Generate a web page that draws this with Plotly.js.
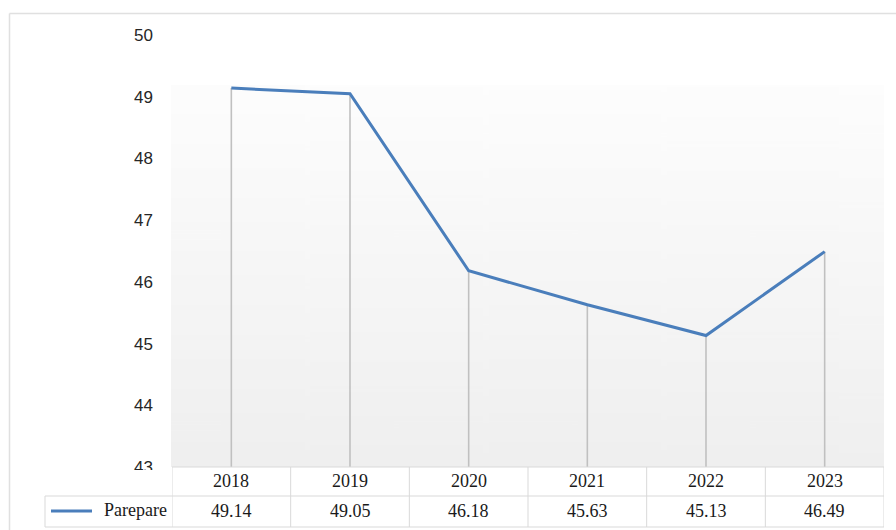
<!DOCTYPE html>
<html>
<head>
<meta charset="utf-8">
<script src="https://cdn.plot.ly/plotly-3.0.1.min.js"></script>
<style>
  html, body { margin: 0; padding: 0; background: #ffffff; }
  #chart { width: 896px; height: 530px; }
</style>
</head>
<body>
<div id="chart"></div>
<script>
// ---- data ----
const years = ['2018', '2019', '2020', '2021', '2022', '2023'];
const values = [49.14, 49.05, 46.18, 45.63, 45.13, 46.49];
const valueLabels = ['49.14', '49.05', '46.18', '45.63', '45.13', '46.49'];
const seriesName = 'Parepare';
const yTicks = [43, 44, 45, 46, 47, 48, 49, 50];
const yMin = 43, yMax = 50;

// ---- geometry helpers (pixel -> paper) ----
const W = 896, H = 530;
const mL = 172, mR = 12, mT = 35, mB = 63;
const plotW = W - mL - mR, plotH = H - mT - mB;
const px = p => (p - mL) / plotW;
const py = p => (H - mB - p) / plotH;

// gradient background image for the plot area
const cv = document.createElement('canvas');
cv.width = 8; cv.height = 256;
const ctx = cv.getContext('2d');
const g = ctx.createLinearGradient(0, 0, 0, 256);
g.addColorStop(0, '#fdfdfd');
g.addColorStop(1, '#efefef');
ctx.fillStyle = g; ctx.fillRect(0, 0, 8, 256);
const gradURL = cv.toDataURL('image/png');

// drop lines built from the data
const dropX = [], dropY = [];
years.forEach((yr, i) => { dropX.push(yr, yr, null); dropY.push(values[i], yMin, null); });

const traces = [
  {
    x: dropX, y: dropY, mode: 'lines', type: 'scatter',
    line: { color: 'rgb(192,192,192)', width: 1.6 },
    hoverinfo: 'skip', showlegend: false
  },
  {
    x: years, y: values, mode: 'lines', type: 'scatter', name: seriesName,
    line: { color: '#4a7ebb', width: 3 },
    hoverinfo: 'skip', showlegend: false
  }
];

const gridColor = '#d9d9d9';
const shapes = [];
// white mask that clips the lower part of the "43" tick label
shapes.push({ type: 'rect', xref: 'paper', yref: 'paper', x0: px(95), x1: px(171), y0: py(470), y1: py(495),
  fillcolor: '#ffffff', line: { width: 0 }, layer: 'above' });
// outer chart frame (left + top)
shapes.push({ type: 'line', xref: 'paper', yref: 'paper', x0: px(9.5), x1: px(9.5), y0: py(13.5), y1: py(535), line: { color: '#e0e0e0', width: 1.5 } });
shapes.push({ type: 'line', xref: 'paper', yref: 'paper', x0: px(9.5), x1: px(900), y0: py(13.5), y1: py(13.5), line: { color: '#e0e0e0', width: 1.5 } });
// data table lines
const rowTop = py(467), rowMid = py(496), rowBot = py(527);
shapes.push({ type: 'line', xref: 'x', yref: 'paper', x0: -0.5, x1: years.length - 0.5, y0: rowTop, y1: rowTop, line: { color: gridColor, width: 1 } });
shapes.push({ type: 'line', xref: 'paper', yref: 'paper', x0: px(45), x1: 1, y0: rowMid, y1: rowMid, line: { color: gridColor, width: 1 } });
shapes.push({ type: 'line', xref: 'paper', yref: 'paper', x0: px(45), x1: 1, y0: rowBot, y1: rowBot, line: { color: gridColor, width: 1 } });
shapes.push({ type: 'line', xref: 'paper', yref: 'paper', x0: px(45), x1: px(45), y0: rowMid, y1: rowBot, line: { color: gridColor, width: 1 } });
for (let i = 0; i <= years.length; i++) {
  shapes.push({ type: 'line', xref: 'x', yref: 'paper', x0: i - 0.5, x1: i - 0.5, y0: rowTop, y1: rowBot, line: { color: gridColor, width: 1 } });
}
// legend key line
shapes.push({ type: 'line', xref: 'paper', yref: 'paper', x0: px(51), x1: px(92), y0: py(511), y1: py(511), line: { color: '#4a7ebb', width: 3 } });

const tableFont = { family: '"Liberation Serif", "Times New Roman", serif', size: 18, color: '#1a1a1a' };
const annotations = [];
years.forEach((yr, i) => {
  annotations.push({ x: i, xref: 'x', y: py(481), yref: 'paper', text: yr, showarrow: false, font: tableFont, xanchor: 'center', yanchor: 'middle' });
  annotations.push({ x: i, xref: 'x', y: py(511), yref: 'paper', text: valueLabels[i], showarrow: false, font: tableFont, xanchor: 'center', yanchor: 'middle' });
});
annotations.push({ x: px(135), xref: 'paper', y: py(510), yref: 'paper', text: seriesName, showarrow: false, font: tableFont, xanchor: 'center', yanchor: 'middle' });

const layout = {
  width: W, height: H,
  margin: { l: mL, r: mR, t: mT, b: mB, pad: 0 },
  paper_bgcolor: '#ffffff',
  plot_bgcolor: 'rgba(0,0,0,0)',
  showlegend: false,
  xaxis: {
    type: 'category', categoryarray: years, range: [-0.5, years.length - 0.5],
    showgrid: false, zeroline: false, showline: false, showticklabels: false, ticks: '', fixedrange: true
  },
  yaxis: {
    range: [yMin, yMax], tickvals: yTicks, ticktext: yTicks.map(String),
    showgrid: false, zeroline: false, showline: false, ticks: '',
    ticklabelstandoff: 18,
    tickfont: { family: '"Liberation Sans", Arial, sans-serif', size: 17, color: '#262626' },
    fixedrange: true
  },
  images: [{
    source: gradURL, xref: 'paper', yref: 'paper',
    x: px(171), y: py(85), sizex: px(884) - px(171), sizey: py(85) - py(467),
    xanchor: 'left', yanchor: 'top', sizing: 'stretch', layer: 'below'
  }],
  shapes: shapes,
  annotations: annotations
};

Plotly.newPlot('chart', traces, layout, { displayModeBar: false, staticPlot: true });
</script>
</body>
</html>
